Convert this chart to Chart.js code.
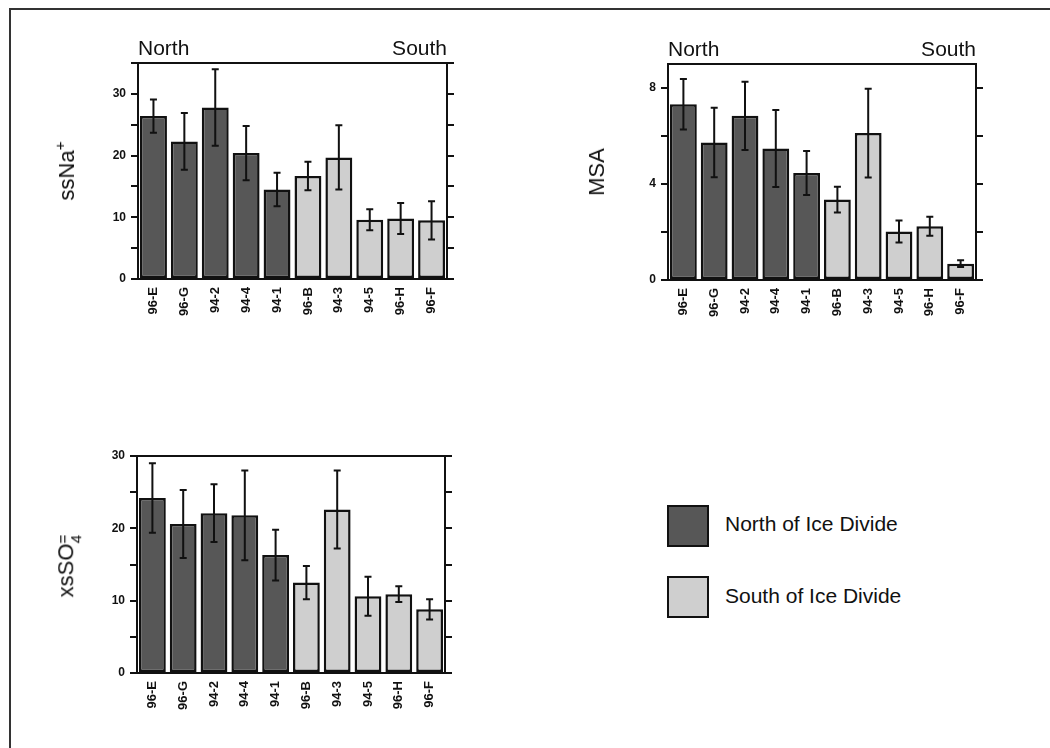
<!DOCTYPE html>
<html>
<head>
<meta charset="utf-8">
<script src="https://cdn.jsdelivr.net/npm/chart.js@4.4.1/dist/chart.umd.min.js"></script>
<style>
  body { margin: 0; background: #fff; font-family: "Liberation Sans", Arial, sans-serif; }
  #page { position: relative; width: 1050px; height: 748px; overflow: hidden; }
  #frame { position: absolute; left: 9px; top: 8px; right: -5px; bottom: -5px;
           border-left: 2px solid #333; border-top: 2px solid #333; }
  canvas { position: absolute; }
  .ytitle { position: absolute; font-size: 22px; color: #111; white-space: nowrap;
            transform: translate(-50%, -50%) rotate(-90deg); }
  .ytitle sup { font-size: 0.7em; vertical-align: 0.6em; line-height: 0; }
  .stack { display: inline-block; font-size: 0.7em; line-height: 0.85; vertical-align: -0.55em; text-align: center; }
  .legbox { position: absolute; width: 38px; height: 38px; border: 2px solid #111; }
  .legtext { position: absolute; font-size: 21px; color: #111; white-space: nowrap; transform: translateY(-50%); }
</style>
</head>
<body>
<div id="page">
  <div id="frame"></div>
  <canvas id="na-chart" width="460" height="320" style="left:20px;top:20px;width:460px;height:320px"></canvas>
  <canvas id="msa-chart" width="460" height="320" style="left:550px;top:20px;width:460px;height:320px"></canvas>
  <canvas id="so4-chart" width="460" height="320" style="left:20px;top:410px;width:460px;height:320px"></canvas>

  <div class="ytitle" style="left:67px;top:171px">ssNa<sup>+</sup></div>
  <div class="ytitle" style="left:597px;top:172px">MSA</div>
  <div class="ytitle" style="left:68px;top:566px">xsSO<span class="stack">=<br>4</span></div>

  <div class="legbox" id="leg-north" style="left:667px;top:505px"></div>
  <div class="legtext" style="left:725px;top:524px">North of Ice Divide</div>
  <div class="legbox" id="leg-south" style="left:667px;top:576px"></div>
  <div class="legtext" style="left:725px;top:596px">South of Ice Divide</div>
</div>

<script>
// sites, ordered north to south
const sites = ['96-E', '96-G', '94-2', '94-4', '94-1', '96-B', '94-3', '94-5', '96-H', '96-F'];
const region = ['N', 'N', 'N', 'N', 'N', 'S', 'S', 'S', 'S', 'S'];

const ssNaMean = [26.4, 22.3, 27.8, 20.4, 14.5, 16.7, 19.7, 9.6, 9.8, 9.5];
const ssNaErr  = [2.7, 4.6, 6.2, 4.4, 2.7, 2.3, 5.2, 1.7, 2.5, 3.1];

const msaMean = [7.32, 5.73, 6.84, 5.48, 4.46, 3.35, 6.12, 2.02, 2.24, 0.68];
const msaErr  = [1.05, 1.45, 1.42, 1.6, 0.92, 0.54, 1.85, 0.46, 0.4, 0.14];

const so4Mean = [24.2, 20.6, 22.1, 21.8, 16.3, 12.5, 22.6, 10.6, 10.9, 8.8];
const so4Err  = [4.8, 4.7, 4.0, 6.2, 3.5, 2.3, 5.4, 2.7, 1.1, 1.4];

// labelled y ticks
const ssNaTicks = [0, 10, 20, 30];
const msaTicks = [0, 4, 8];
const so4Ticks = [0, 10, 20, 30];

const darkFill = '#575757';
const lightFill = '#cfcfcf';
const ink = '#111';

Chart.defaults.font.family = '"Liberation Sans", Arial, sans-serif';
Chart.defaults.color = ink;

document.getElementById('leg-north').style.background = darkFill;
document.getElementById('leg-south').style.background = lightFill;

// error bars from the mean +/- err arrays
const errorBars = {
    id: 'errorBars',
    afterDatasetsDraw(chart, args, opts) {
        const ctx = chart.ctx;
        const yScale = chart.scales.y;
        const meta = chart.getDatasetMeta(0);
        const values = chart.data.datasets[0].data;
        ctx.save();
        ctx.strokeStyle = ink;
        ctx.lineWidth = 2;
        meta.data.forEach((bar, i) => {
            const x = bar.x;
            const top = yScale.getPixelForValue(values[i] + opts.errors[i]);
            const bottom = yScale.getPixelForValue(values[i] - opts.errors[i]);
            ctx.beginPath();
            ctx.moveTo(x, top);
            ctx.lineTo(x, bottom);
            ctx.moveTo(x - 3.5, top);
            ctx.lineTo(x + 3.5, top);
            ctx.moveTo(x - 3.5, bottom);
            ctx.lineTo(x + 3.5, bottom);
            ctx.stroke();
        });
        ctx.restore();
    }
};

// "North" / "South" above the plot
const sideLabels = {
    id: 'sideLabels',
    afterDraw(chart, args, opts) {
        const ctx = chart.ctx;
        const area = chart.chartArea;
        ctx.save();
        ctx.fillStyle = ink;
        ctx.font = '21px "Liberation Sans", Arial, sans-serif';
        ctx.textBaseline = 'alphabetic';
        ctx.textAlign = 'left';
        ctx.fillText(opts.left, area.left, area.top - 8);
        ctx.textAlign = 'right';
        ctx.fillText(opts.right, area.right, area.top - 8);
        ctx.restore();
    }
};

function makeChart(canvasId, means, errs, cfg) {
    const ctx = document.getElementById(canvasId).getContext('2d');
    const yBase = {
        min: 0,
        max: cfg.max,
        grid: { drawOnChartArea: false, color: ink, lineWidth: 2, tickLength: 7 },
        border: { display: true, color: ink, width: 2 }
    };
    return new Chart(ctx, {
        type: 'bar',
        data: {
            labels: sites,
            datasets: [{
                data: means,
                backgroundColor: region.map(r => r === 'N' ? darkFill : lightFill),
                borderColor: ink,
                borderWidth: 2.5,
                borderSkipped: false,
                barPercentage: 0.87,
                categoryPercentage: 1.0
            }]
        },
        options: {
            responsive: false,
            animation: false,
            layout: { padding: { top: cfg.top, left: 0, right: 0, bottom: 0 } },
            plugins: {
                legend: { display: false },
                tooltip: { enabled: false },
                errorBars: { errors: errs },
                sideLabels: cfg.side || { left: '', right: '' }
            },
            scales: {
                x: {
                    grid: { display: false, drawTicks: false },
                    border: { display: true, color: ink, width: 2 },
                    ticks: {
                        minRotation: 90, maxRotation: 90, padding: 8,
                        font: { size: 13, weight: 'bold' }
                    },
                    afterFit(scale) { scale.height = cfg.xHeight; }
                },
                xTop: {
                    type: 'category',
                    position: 'top',
                    grid: { display: false, drawTicks: false },
                    border: { display: true, color: ink, width: 2 },
                    ticks: { display: false },
                    afterFit(scale) { scale.height = 0; }
                },
                y: Object.assign({}, yBase, {
                    position: 'left',
                    ticks: {
                        stepSize: cfg.step, includeBounds: false, padding: 5,
                        font: { size: 12, weight: 'bold' },
                        callback: v => cfg.labelled.includes(v) ? String(v) : ''
                    },
                    afterFit(scale) { scale.width = cfg.yWidth; }
                }),
                yRight: Object.assign({}, yBase, {
                    position: 'right',
                    ticks: { display: false, stepSize: cfg.step, includeBounds: false },
                    afterFit(scale) { scale.width = cfg.rightWidth; }
                })
            }
        },
        plugins: cfg.side ? [errorBars, sideLabels] : [errorBars]
    });
}

makeChart('na-chart', ssNaMean, ssNaErr, {
    max: 35, step: 5, labelled: ssNaTicks,
    top: 43, xHeight: 61, yWidth: 118, rightWidth: 33,
    side: { left: 'North', right: 'South' }
});

makeChart('msa-chart', msaMean, msaErr, {
    max: 9, step: 2, labelled: msaTicks,
    top: 44, xHeight: 60, yWidth: 118, rightWidth: 34,
    side: { left: 'North', right: 'South' }
});

makeChart('so4-chart', so4Mean, so4Err, {
    max: 30, step: 5, labelled: so4Ticks,
    top: 46, xHeight: 57, yWidth: 117, rightWidth: 35
});
</script>
</body>
</html>
